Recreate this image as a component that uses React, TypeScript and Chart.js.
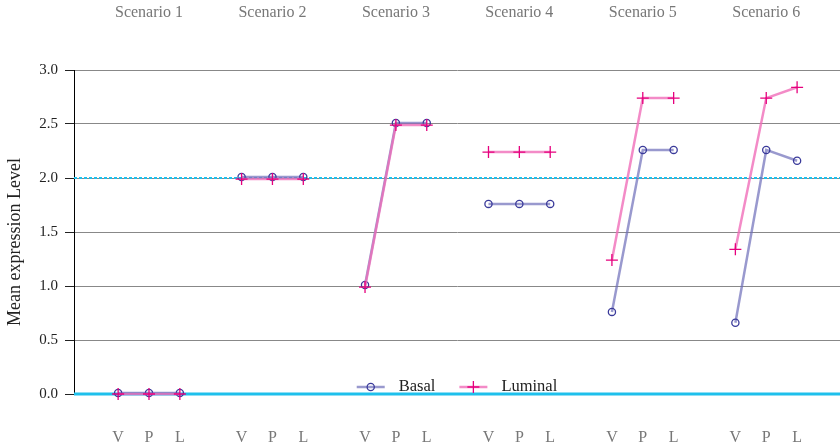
import React, { useEffect, useRef } from "react";
import { Chart, registerables } from "chart.js";

Chart.register(...registerables);

const scenarios = ["Scenario 1", "Scenario 2", "Scenario 3", "Scenario 4", "Scenario 5", "Scenario 6"];
const stages = ["V", "P", "L"];
const basal = [0.01, 0.01, 0.01, 2.01, 2.01, 2.01, 1.01, 2.51, 2.51, 1.76, 1.76, 1.76, 0.76, 2.26, 2.26, 0.66, 2.26, 2.16];
const luminal = [0.0, 0.0, 0.0, 1.99, 1.99, 1.99, 0.99, 2.49, 2.49, 2.24, 2.24, 2.24, 1.24, 2.74, 2.74, 1.34, 2.74, 2.84];
const yTicks = [0, 0.5, 1.0, 1.5, 2.0, 2.5, 3.0];
const yTitle = "Mean expression Level";
const refLines = [
  { value: 0, dash: [] as number[], width: 3 },
  { value: 2, dash: [3, 2], width: 2 },
];

const FONT = "'Liberation Serif', 'Times New Roman', serif";

function toPoints(vals: number[]) {
  const pts: { x: number; y: number | null }[] = [];
  scenarios.forEach((_, g) => {
    stages.forEach((__, i) => pts.push({ x: g * 4 + i, y: vals[g * 3 + i] }));
    pts.push({ x: g * 4 + 3, y: null });
  });
  return pts;
}

const refLinePlugin = {
  id: "refLines",
  beforeDatasetsDraw(chart: any) {
    const { ctx, chartArea } = chart;
    const y = chart.scales.y;
    ctx.save();
    refLines.forEach((r) => {
      const py = y.getPixelForValue(r.value);
      ctx.beginPath();
      ctx.setLineDash(r.dash);
      ctx.lineWidth = r.width;
      ctx.strokeStyle = "#1ec0ec";
      ctx.moveTo(chartArea.left, py);
      ctx.lineTo(chartArea.right, py);
      ctx.stroke();
    });
    ctx.restore();
  },
};

const yTitlePlugin = {
  id: "yTitle",
  afterDraw(chart: any) {
    const { ctx, chartArea } = chart;
    ctx.save();
    ctx.font = `18px ${FONT}`;
    ctx.fillStyle = "#222";
    ctx.textAlign = "center";
    ctx.textBaseline = "middle";
    ctx.translate(15, (chartArea.top + chartArea.bottom) / 2 + 10);
    ctx.rotate(-Math.PI / 2);
    ctx.fillText(yTitle, 0, 0);
    ctx.restore();
  },
};

const legendPlugin = {
  id: "customLegend",
  afterDraw(chart: any) {
    const { ctx, chartArea } = chart;
    ctx.save();
    ctx.font = `16.5px ${FONT}`;
    const items = [
      { label: "Basal", line: "rgba(110,110,185,0.7)", mark: "#3a3a9a", style: "circle" },
      { label: "Luminal", line: "rgba(240,110,185,0.8)", mark: "#e6007e", style: "cross" },
    ];
    const lineW = 28;
    const gapAfterLine = 14;
    const gapBetween = 24;
    let total = 0;
    items.forEach((it, i) => {
      total += lineW + gapAfterLine + ctx.measureText(it.label).width;
      if (i < items.length - 1) total += gapBetween;
    });
    let x = (chartArea.left + chartArea.right) / 2 - total / 2;
    const y = chartArea.bottom - 7;
    items.forEach((it) => {
      ctx.beginPath();
      ctx.setLineDash([]);
      ctx.strokeStyle = it.line;
      ctx.lineWidth = 2.5;
      ctx.moveTo(x, y);
      ctx.lineTo(x + lineW, y);
      ctx.stroke();
      const cx = x + lineW / 2;
      ctx.strokeStyle = it.mark;
      ctx.lineWidth = 1.3;
      ctx.beginPath();
      if (it.style === "circle") {
        ctx.arc(cx, y, 3.6, 0, Math.PI * 2);
      } else {
        ctx.moveTo(cx - 6, y);
        ctx.lineTo(cx + 6, y);
        ctx.moveTo(cx, y - 6);
        ctx.lineTo(cx, y + 6);
      }
      ctx.stroke();
      x += lineW + gapAfterLine;
      ctx.fillStyle = "#222";
      ctx.textBaseline = "middle";
      ctx.textAlign = "left";
      ctx.fillText(it.label, x, y);
      x += ctx.measureText(it.label).width + gapBetween;
    });
    ctx.restore();
  },
};

export default function App() {
  const ref = useRef<HTMLCanvasElement | null>(null);
  useEffect(() => {
    document.body.style.margin = "0";
    if (!ref.current) return;
    const bottomTicks: number[] = [];
    scenarios.forEach((_, g) => stages.forEach((__, i) => bottomTicks.push(g * 4 + i)));
    const topTicks = scenarios.map((_, g) => g * 4 + 1);
    const chart = new Chart(ref.current, {
      type: "line",
      data: {
        datasets: [
          {
            label: "Luminal",
            data: toPoints(luminal) as any,
            borderColor: "rgba(240,110,185,0.8)",
            borderWidth: 2.5,
            pointStyle: "cross",
            pointRadius: 6,
            pointHoverRadius: 6,
            pointBorderColor: "#e6007e",
            pointBorderWidth: 1.3,
            pointBackgroundColor: "rgba(0,0,0,0)",
            spanGaps: false,
            clip: false as any,
            order: 1,
          },
          {
            label: "Basal",
            data: toPoints(basal) as any,
            borderColor: "rgba(110,110,185,0.7)",
            borderWidth: 2.5,
            pointStyle: "circle",
            pointRadius: 3.6,
            pointHoverRadius: 3.6,
            pointBorderColor: "#3a3a9a",
            pointBorderWidth: 1.3,
            pointBackgroundColor: "rgba(0,0,0,0)",
            spanGaps: false,
            clip: false as any,
            order: 2,
          },
        ],
      },
      options: {
        animation: false,
        responsive: false,
        maintainAspectRatio: false,
        layout: { padding: 0, autoPadding: false },
        plugins: { legend: { display: false }, tooltip: { enabled: false } },
        scales: {
          x: {
            type: "linear",
            position: "bottom",
            min: -1.43,
            max: 23.39,
            grid: { display: false, drawTicks: true, tickLength: 32 },
            border: { display: false },
            afterBuildTicks: (s: any) => {
              s.ticks = bottomTicks.map((v) => ({ value: v }));
            },
            afterFit: (s: any) => {
              s.height = 49;
              s.paddingLeft = 0;
              s.paddingRight = 0;
            },
            ticks: {
              autoSkip: false,
              maxRotation: 0,
              padding: 2,
              color: "#777",
              font: { family: FONT, size: 16 },
              callback: (v: any) => stages[Math.round(Number(v)) % 4] ?? "",
            },
          },
          x2: {
            type: "linear",
            position: "top",
            min: -1.43,
            max: 23.39,
            grid: { display: false, drawTicks: true, tickLength: 46 },
            border: { display: false },
            afterBuildTicks: (s: any) => {
              s.ticks = topTicks.map((v) => ({ value: v }));
            },
            afterFit: (s: any) => {
              s.height = 70;
              s.paddingLeft = 0;
              s.paddingRight = 0;
            },
            ticks: {
              autoSkip: false,
              maxRotation: 0,
              padding: 2,
              color: "#777",
              font: { family: FONT, size: 16 },
              callback: (v: any) => scenarios[Math.round((Number(v) - 1) / 4)] ?? "",
            },
          },
          y: {
            type: "linear",
            min: 0,
            max: 3,
            afterBuildTicks: (s: any) => {
              s.ticks = yTicks.map((v) => ({ value: v }));
            },
            afterFit: (s: any) => {
              s.width = 74;
            },
            grid: { color: "#888", lineWidth: 1, tickColor: "#222", tickLength: 9 },
            border: { display: true, color: "#000", width: 1 },
            ticks: {
              padding: 7,
              color: "#222",
              font: { family: FONT, size: 15 },
              callback: (v: any) => Number(v).toFixed(1),
            },
            title: { display: false },
          },
        },
      },
      plugins: [refLinePlugin, legendPlugin, yTitlePlugin],
    });
    return () => chart.destroy();
  }, []);
  return (
    <div style={{ width: 840, height: 443 }}>
      <canvas ref={ref} width={840} height={443} style={{ display: "block" }} />
    </div>
  );
}
